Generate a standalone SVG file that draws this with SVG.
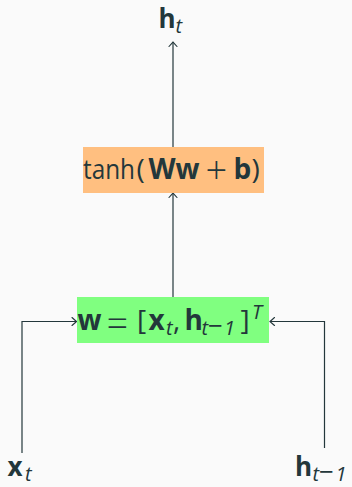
<svg xmlns="http://www.w3.org/2000/svg" width="352" height="487" viewBox="0 0 352 487">
  <style>
    .t { font-family: "Open Sans", "DejaVu Sans", sans-serif; fill: #23373b; font-size: 28px; }
    .lbl { font-size: 26px; }
    .b { font-weight: bold; }
    .sub { font-size: 20px; font-style: italic; }
    .minus { font-size: 26px; font-style: normal; }
    .op { font-size: 38px; font-weight: 300; }
    .wire { fill: none; stroke: #23373b; stroke-width: 1.2; }
  </style>
  <defs>
    <marker id="to" markerWidth="10" markerHeight="10" viewBox="-6 -5 8 10" refX="0" refY="0" orient="auto" markerUnits="userSpaceOnUse">
      <path d="M -4.5 -4 Q -1 -0.8 0 0 Q -1 0.8 -4.5 4" fill="none" stroke="#23373b" stroke-width="1.1" stroke-linecap="round"/>
    </marker>
  </defs>
  <rect width="352" height="487" fill="#fafafa"/>

  <g id="connectors">
    <path class="wire" d="M173 147 V42" marker-end="url(#to)"/>
    <path class="wire" d="M173 297 V193" marker-end="url(#to)"/>
    <path class="wire" d="M22 453 V321.5 H76.5" marker-end="url(#to)"/>
    <path class="wire" d="M324.5 448 V321.5 H270" marker-end="url(#to)"/>
  </g>

  <!-- tanh(Ww + b) -->
  <g id="activation">
    <rect x="83" y="147" width="181" height="46" fill="#ffbf80"/>
    <text class="t"><tspan x="83" y="178.5" textLength="52" lengthAdjust="spacingAndGlyphs">tanh</tspan><tspan x="136.5" y="178.5">(</tspan><tspan class="b" x="148.5">Ww</tspan><tspan class="op" x="205.5" y="183.5">+</tspan><tspan class="b" x="233.5" y="178.5">b</tspan><tspan x="251.5">)</tspan></text>
  </g>

  <!-- w = [x_t, h_{t-1}]^T -->
  <g id="concat">
    <rect x="77" y="297" width="192" height="46" fill="#80ff80"/>
    <text class="t"><tspan class="b" x="77.5" y="329.5">w</tspan><tspan class="op" x="106.5" y="336.5">=</tspan><tspan x="137" y="329.5">[</tspan><tspan class="b" x="148.5">x</tspan><tspan class="sub" x="166" y="335">t</tspan><tspan x="173" y="329.5">,</tspan><tspan class="b" x="184.5">h</tspan><tspan class="sub" x="201.5" y="335">t</tspan><tspan class="sub minus" x="208">−</tspan><tspan class="sub" x="224">1</tspan><tspan x="240.5" y="329.5">]</tspan><tspan class="sub" x="252" y="318.5">T</tspan></text>
  </g>

  <g id="h_t">
    <text class="t lbl"><tspan class="b" x="158.5" y="27.5">h</tspan><tspan class="sub" x="175.5" y="32.5">t</tspan></text>
  </g>

  <g id="x_t">
    <text class="t lbl"><tspan class="b" x="7.5" y="476">x</tspan><tspan class="sub" x="25" y="481">t</tspan></text>
  </g>

  <g id="h_prev">
    <text class="t lbl"><tspan class="b" x="295" y="476">h</tspan><tspan class="sub" x="312.5" y="481">t</tspan><tspan class="sub minus" x="319">−</tspan><tspan class="sub" x="335.5">1</tspan></text>
  </g>
</svg>
